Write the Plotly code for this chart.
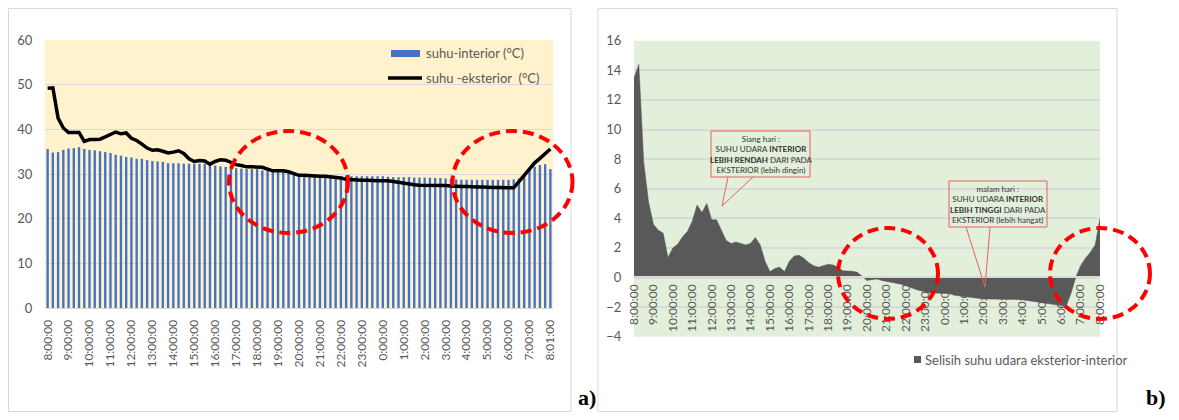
import plotly.graph_objects as go

# page is 1179x420; the browser's default 8px body margin surrounds the figure
PAGE_W, PAGE_H = 1179, 420
OFF = 8
W, H = PAGE_W - 2 * OFF, PAGE_H - 2 * OFF

# ---------------- data ----------------
# 15-minute observation times, 8:00 -> 8:01 next day (97 points)
times = [f"{(8 + i // 4) % 24}:{(i % 4) * 15:02d}:00" for i in range(96)] + ["8:01:00"]

ticks_a = ["8:00:00", "9:00:00", "10:00:00", "11:00:00", "12:00:00", "13:00:00",
           "14:00:00", "15:00:00", "16:00:00", "17:00:00", "18:00:00", "19:00:00",
           "20:00:00", "21:00:00", "22:00:00", "23:00:00", "0:00:00", "1:00:00",
           "2:00:00", "3:00:00", "4:00:00", "5:00:00", "6:00:00", "7:00:00", "8:01:00"]
ticks_b = ["8:00:00", "9:00:00", "10:00:00", "11:00:00", "12:00:00", "13:00:00",
           "14:00:00", "15:00:00", "16:00:00", "17:00:00", "18:00:00", "19:00:00",
           "20:00:00", "21:00:00", "22:00:00", "23:00:00", "0:00:00", "1:00:00",
           "2:00:00", "3:00:00", "4:00:00", "5:00:00", "6:00:00", "7:00:00", "8:00:00"]

interior = [35.6, 34.8, 34.9, 35.4, 35.7, 35.8, 36.0, 35.6, 35.4, 35.3, 35.1, 34.9, 34.7,
            34.3, 34.1, 33.8, 33.7, 33.4, 33.4, 33.1, 32.9, 32.8, 32.7, 32.4, 32.4,
            32.4, 32.3, 32.3, 32.3, 32.3, 32.3, 32.1, 31.9, 31.7, 31.6, 31.3, 31.3,
            31.2, 31.1, 31.1, 31.1, 30.8, 30.7, 30.7, 30.7, 30.4, 30.2, 30.0, 29.8,
            29.6, 29.5, 29.5, 29.5, 29.5, 29.4, 29.4, 29.4,
            29.5, 29.5, 29.5, 29.5, 29.5, 29.5, 29.5, 29.5, 29.4,
            29.3, 29.3, 29.3, 29.3, 29.2, 29.2, 29.2, 29.2, 29.1, 29.1, 29.0, 28.9,
            28.8, 28.7, 28.7, 28.7, 28.7, 28.7, 28.7, 28.7, 28.7, 28.7, 28.7, 28.8,
            29.0, 29.9, 31.0, 31.6, 32.0, 32.2, 31.1]

exterior = [49.2, 49.3, 42.5, 40.3, 39.3, 39.3, 39.3, 37.3, 37.7, 37.7, 37.8, 38.3, 38.8,
            39.4, 39.0, 39.2, 38.0, 37.5, 36.7, 35.8, 35.3, 35.4, 35.1, 34.7, 34.9,
            35.2, 34.6, 33.4, 32.8, 33.0, 32.9, 32.2, 32.8, 33.2, 33.1, 32.5, 32.1,
            31.9, 31.6, 31.6, 31.6, 31.5, 31.1, 30.7, 30.7, 30.7, 30.5, 30.1, 29.7,
            29.7, 29.6, 29.6, 29.5, 29.5, 29.4, 29.3, 29.1,
            28.8, 28.7, 28.6, 28.6, 28.6, 28.5, 28.5, 28.5, 28.5,
            28.3, 28.1, 27.9, 27.7, 27.6, 27.5, 27.5, 27.5, 27.4, 27.4, 27.4, 27.3,
            27.2, 27.2, 27.2, 27.1, 27.1, 27.1, 27.0, 27.0, 27.0, 26.9, 26.9, 26.9,
            28.3, 30.0, 31.3, 32.5, 33.5, 34.5, 35.6]

selisih = [13.5, 14.4, 7.8, 5.1, 3.6, 3.2, 3.0, 1.35, 2.0, 2.25, 2.75, 3.1, 3.8,
           4.9, 4.4, 5.0, 3.9, 3.9, 3.2, 2.5, 2.3, 2.4, 2.3, 2.2, 2.3,
           2.7, 2.2, 1.1, 0.4, 0.6, 0.7, 0.4, 1.1, 1.45, 1.5, 1.3, 1.0,
           0.8, 0.7, 0.8, 0.9, 0.85, 0.7, 0.45, 0.45, 0.42, 0.35, 0.1, -0.2,
           -0.15, -0.1, -0.2, -0.25, -0.3, -0.35, -0.45, -0.55,
           -0.7, -0.8, -0.9, -1.0, -1.05, -1.05, -1.05, -1.05, -1.1,
           -1.2, -1.25, -1.3, -1.35, -1.4, -1.45, -1.45, -1.45, -1.45, -1.45, -1.5, -1.5,
           -1.5, -1.5, -1.5, -1.55, -1.6, -1.6, -1.65, -1.75, -1.8, -1.85, -1.9, -1.95,
           -1.1, 0.0, 0.8, 1.3, 1.7, 2.2, 4.0]

tickvals = times[::4]


# ---------------- helpers (page pixel -> paper) ----------------
def px(x):
    return (x - OFF) / W


def py(y):
    return 1 - (y - OFF) / H


GREY = "#595959"
TICKFONT = dict(family="Lato", size=12, color=GREY)
YFONT = dict(family="Lato", size=13, color=GREY)

fig = go.Figure()
fig.add_trace(go.Bar(x=times, y=interior, name="suhu-interior (°C)",
                     marker=dict(color="#4472C4", line=dict(width=0)),
                     xaxis="x", yaxis="y", showlegend=False))
fig.add_trace(go.Scatter(x=times, y=exterior, name="suhu -eksterior  (°C)", mode="lines",
                         line=dict(color="black", width=3.5),
                         xaxis="x", yaxis="y", showlegend=False))
fig.add_trace(go.Scatter(x=times, y=selisih, name="Selisih suhu udara eksterior-interior",
                         mode="lines", fill="tozeroy", fillcolor=GREY,
                         line=dict(color=GREY, width=0.5),
                         xaxis="x2", yaxis="y2", showlegend=False))

fig.update_layout(
    width=W, height=H, autosize=False,
    margin=dict(l=0, r=0, t=0, b=0, pad=0, autoexpand=False),
    paper_bgcolor="white", plot_bgcolor="rgba(0,0,0,0)",
    bargap=0.55, showlegend=False,
    xaxis=dict(domain=[px(45), px(553)], anchor="y", type="category", automargin=False,
               range=[-0.5, 96.5], tickmode="array", tickvals=tickvals, ticktext=ticks_a,
               tickangle=-90, tickfont=TICKFONT, showgrid=False,
               showline=True, linecolor="#D9D9D9", linewidth=1,
               ticks="outside", ticklen=6, tickcolor="rgba(0,0,0,0)"),
    yaxis=dict(domain=[py(308), py(40)], anchor="x", range=[0, 60], dtick=10, automargin=False,
               gridcolor="#D9D9D9", gridwidth=1, zeroline=False, showline=False,
               tickfont=YFONT, ticks="outside", ticklen=9, tickcolor="rgba(0,0,0,0)"),
    xaxis2=dict(domain=[px(634), px(1100)], anchor="free", position=py(276.7), automargin=False,
                type="category", range=[0, 96], tickmode="array", tickvals=tickvals,
                ticktext=ticks_b, tickangle=-90, tickfont=TICKFONT, showgrid=False,
                showline=True, linecolor="#D9D9D9", linewidth=1.5, layer="above traces",
                ticks="outside", ticklen=2, tickcolor="rgba(0,0,0,0)"),
    yaxis2=dict(domain=[py(336.7), py(40.7)], anchor="x2", range=[-4, 16], dtick=2,
                automargin=False,
                gridcolor="#D9D9D9", gridwidth=1.5, zeroline=False, showline=False,
                tickfont=YFONT, ticks="outside", ticklen=9, tickcolor="rgba(0,0,0,0)"),
)

RED_BOX = "#E8625C"
shapes = [
    # panel frames
    dict(type="rect", xref="paper", yref="paper", x0=px(8.5), x1=px(571), y0=py(411.5), y1=py(8.5),
         line=dict(color="#D9D9D9", width=1)),
    dict(type="rect", xref="paper", yref="paper", x0=px(598), x1=px(1117), y0=py(411.5), y1=py(8.5),
         line=dict(color="#D9D9D9", width=1)),
    # plot backgrounds
    dict(type="rect", xref="x domain", yref="y domain", x0=0, x1=1, y0=0, y1=1,
         fillcolor="#FFF2CC", line=dict(width=0), layer="below"),
    dict(type="rect", xref="x2 domain", yref="y2 domain", x0=0, x1=1, y0=0, y1=1,
         fillcolor="#E2EFDA", line=dict(width=0), layer="below"),
    # left legend swatches
    dict(type="rect", xref="paper", yref="paper", x0=px(391), x1=px(420), y0=py(57), y1=py(50),
         fillcolor="#4472C4", line=dict(width=0)),
    dict(type="line", xref="paper", yref="paper", x0=px(388), x1=px(422), y0=py(78), y1=py(78),
         line=dict(color="black", width=3.5)),
    # right legend swatch
    dict(type="rect", xref="paper", yref="paper", x0=px(914), x1=px(921), y0=py(363), y1=py(356),
         fillcolor=GREY, line=dict(width=0)),
    # callout boxes
    dict(type="rect", xref="paper", yref="paper", x0=px(711), x1=px(810), y0=py(177), y1=py(131),
         line=dict(color=RED_BOX, width=1)),
    dict(type="path", xref="paper", yref="paper",
         path=f"M {px(728)},{py(177)} L {px(722)},{py(206)} L {px(753)},{py(177)}",
         line=dict(color=RED_BOX, width=1)),
    dict(type="rect", xref="paper", yref="paper", x0=px(949), x1=px(1047), y0=py(227), y1=py(181),
         line=dict(color=RED_BOX, width=1)),
    dict(type="path", xref="paper", yref="paper",
         path=f"M {px(966)},{py(227)} L {px(985)},{py(287)} L {px(990)},{py(227)}",
         line=dict(color=RED_BOX, width=1)),
]

# red dashed highlight circles
for cx, cy, rx, ry in [(288.5, 182, 59.5, 51), (512.5, 182, 60, 51),
                       (888, 273.5, 50, 45.5), (1100, 273.5, 50, 45.5)]:
    shapes.append(dict(type="circle", xref="paper", yref="paper",
                       x0=px(cx - rx), x1=px(cx + rx), y0=py(cy + ry), y1=py(cy - ry),
                       line=dict(color="#FF0000", width=4, dash="11px,6px")))

fig.update_layout(shapes=shapes)

CALLOUT = dict(family="Lato", size=8, color="#333333")
LEG = dict(family="Lato", size=13, color=GREY)
LABEL = dict(family="Liberation Serif", size=22, color="black")
annotations = [
    dict(text="suhu-interior (°C)", x=px(424), y=py(53.5), xanchor="left", yanchor="middle",
         font=LEG),
    dict(text="suhu -eksterior  (°C)", x=px(424), y=py(77.5), xanchor="left", yanchor="middle",
         font=LEG),
    dict(text="Selisih suhu udara eksterior-interior", x=px(923), y=py(359.5),
         xanchor="left", yanchor="middle", font=LEG),
    dict(text="Siang hari :<br>SUHU UDARA <b>INTERIOR</b><br><b>LEBIH RENDAH</b> DARI PADA"
              "<br>EKSTERIOR (lebih dingin)",
         x=px(760.5), y=py(154), xanchor="center", yanchor="middle", align="center",
         font=CALLOUT),
    dict(text="malam hari :<br>SUHU UDARA <b>INTERIOR</b><br><b>LEBIH TINGGI</b> DARI PADA"
              "<br>EKSTERIOR (lebih hangat)",
         x=px(998), y=py(204), xanchor="center", yanchor="middle", align="center",
         font=CALLOUT),
    dict(text="<b>a)</b>", x=px(587), y=py(397), xanchor="center", yanchor="middle",
         font=LABEL),
    dict(text="<b>b)</b>", x=px(1156), y=py(397), xanchor="center", yanchor="middle",
         font=LABEL),
]
for a in annotations:
    a.update(xref="paper", yref="paper", showarrow=False)
fig.update_layout(annotations=annotations)

fig.write_html("out.html", config={"displayModeBar": False})
